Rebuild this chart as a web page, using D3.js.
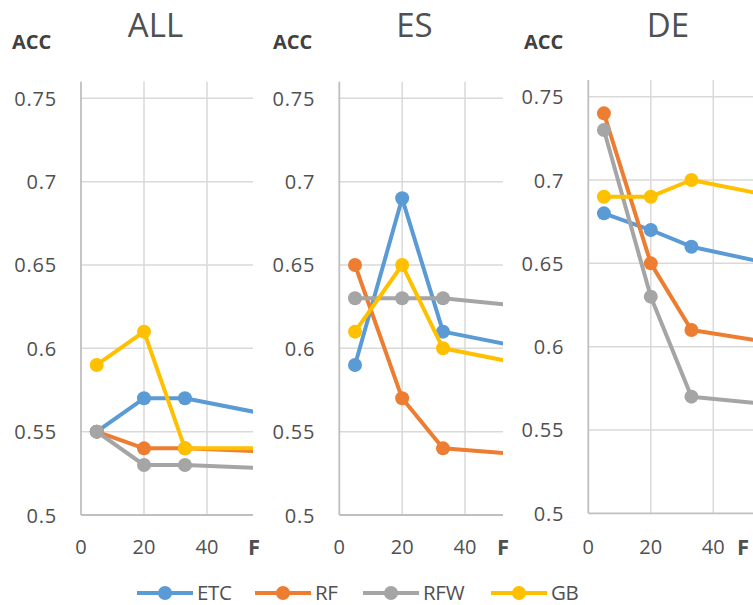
<!DOCTYPE html>
<html>
<head>
<meta charset="utf-8">
<script src="https://cdn.jsdelivr.net/npm/d3@7"></script>
<style>
  html, body { margin: 0; padding: 0; background: #fff; }
  svg { display: block; font-family: "Open Sans", "Liberation Sans", Arial, sans-serif; }
</style>
</head>
<body>
<svg id="chart" width="753" height="605"></svg>
<script>
// ---- data ----
const seriesNames = ["ETC", "RF", "RFW", "GB"];
const seriesColors = ["#5B9BD5", "#ED7D31", "#A5A5A5", "#FFC000"];
const featureCounts = [5, 20, 33, 60];
const panelTitles = ["ALL", "ES", "DE"];
const yTicks = [0.5, 0.55, 0.6, 0.65, 0.7, 0.75];
const yTickLabels = ["0.5", "0.55", "0.6", "0.65", "0.7", "0.75"];
const xTicks = [0, 20, 40];
const xTickLabels = ["0", "20", "40"];

const allETC = [0.55, 0.57, 0.57, 0.56];
const allRF  = [0.55, 0.54, 0.54, 0.538];
const allRFW = [0.55, 0.53, 0.53, 0.528];
const allGB  = [0.59, 0.61, 0.54, 0.54];

const esETC = [0.59, 0.69, 0.61, 0.60];
const esRF  = [0.65, 0.57, 0.54, 0.536];
const esRFW = [0.63, 0.63, 0.63, 0.625];
const esGB  = [0.61, 0.65, 0.60, 0.59];

const deETC = [0.68, 0.67, 0.66, 0.649];
const deRF  = [0.74, 0.65, 0.61, 0.602];
const deRFW = [0.73, 0.63, 0.57, 0.565];
const deGB  = [0.69, 0.69, 0.70, 0.69];

const panelData = [
  [allETC, allRF, allRFW, allGB],
  [esETC, esRF, esRFW, esGB],
  [deETC, deRF, deRFW, deGB]
];

// ---- layout ----
const panels = [
  { x0: 81,    x40: 207,   right: 253, yBot: 515,   yTop: 98.3, titleX: 155.5, accX: 12,  fX: 248 },
  { x0: 339.3, x40: 465,   right: 503, yBot: 515,   yTop: 98.3, titleX: 414.5, accX: 273, fX: 497 },
  { x0: 588.3, x40: 713.3, right: 753, yBot: 513.3, yTop: 96.7, titleX: 668,   accX: 524, fX: 737 }
];

const svg = d3.select("#chart");
const textColor = "#505050";

panels.forEach((p, pi) => {
  const x = d3.scaleLinear().domain([0, 40]).range([p.x0, p.x40]);
  const y = d3.scaleLinear().domain([0.5, 0.75]).range([p.yBot, p.yTop]);
  const g = svg.append("g");

  const clipId = "clip" + pi;
  svg.append("clipPath").attr("id", clipId)
    .append("rect").attr("x", p.x0 - 10).attr("y", 0)
    .attr("width", p.right - p.x0 + 10).attr("height", 560);

  const topY = y(0.76);
  g.selectAll(".hg").data(yTicks.slice(1)).enter().append("line")
    .attr("x1", p.x0).attr("x2", p.right)
    .attr("y1", d => y(d)).attr("y2", d => y(d))
    .attr("stroke", "#D9D9D9").attr("stroke-width", 1.5);
  g.selectAll(".vg").data(xTicks.slice(1)).enter().append("line")
    .attr("x1", d => x(d)).attr("x2", d => x(d))
    .attr("y1", topY).attr("y2", p.yBot)
    .attr("stroke", "#D9D9D9").attr("stroke-width", 1.5);
  g.append("line").attr("x1", p.x0).attr("x2", p.x0).attr("y1", topY).attr("y2", p.yBot)
    .attr("stroke", "#BFBFBF").attr("stroke-width", 1.8);
  g.append("line").attr("x1", p.x0).attr("x2", p.right).attr("y1", p.yBot).attr("y2", p.yBot)
    .attr("stroke", "#BFBFBF").attr("stroke-width", 1.8);

  g.selectAll(".yl").data(yTicks).enter().append("text")
    .attr("x", p.x0 - 24).attr("y", d => y(d) + 7.5)
    .attr("text-anchor", "end").attr("font-size", 20).attr("font-weight", 500)
    .attr("letter-spacing", 0.8)
    .attr("fill", textColor).text((d, i) => yTickLabels[i]);
  g.selectAll(".xl").data(xTicks).enter().append("text")
    .attr("x", d => x(d)).attr("y", 554)
    .attr("text-anchor", "middle").attr("font-size", 20).attr("font-weight", 500)
    .attr("fill", textColor).text((d, i) => xTickLabels[i]);

  g.append("text").attr("x", p.fX).attr("y", 555).attr("font-size", 22).attr("font-weight", "bold")
    .attr("fill", textColor).text("F");
  g.append("text").attr("x", p.accX).attr("y", 49).attr("font-size", 20).attr("font-weight", "bold")
    .attr("fill", "#404040").text("ACC");
  g.append("text").attr("x", p.titleX).attr("y", 37).attr("text-anchor", "middle")
    .attr("font-size", 33).attr("font-weight", 500).attr("fill", textColor).text(panelTitles[pi]);

  const plot = g.append("g").attr("clip-path", `url(#${clipId})`);
  const line = d3.line().x((d, i) => x(featureCounts[i])).y(d => y(d));
  panelData[pi].forEach((vals, si) => {
    const sg = plot.append("g");
    sg.append("path").datum(vals).attr("d", line)
      .attr("fill", "none").attr("stroke", seriesColors[si]).attr("stroke-width", 4)
      .attr("stroke-linejoin", "round");
    sg.selectAll("circle").data(vals).enter().append("circle")
      .attr("cx", (d, i) => x(featureCounts[i])).attr("cy", d => y(d))
      .attr("r", 7).attr("fill", seriesColors[si]);
  });
});

// ---- legend ----
const legendX = [137, 255, 363, 491];
const legendY = 593;
const lg = svg.append("g");
seriesNames.forEach((name, i) => {
  const lx = legendX[i];
  lg.append("line").attr("x1", lx).attr("x2", lx + 56).attr("y1", legendY).attr("y2", legendY)
    .attr("stroke", seriesColors[i]).attr("stroke-width", 4);
  lg.append("circle").attr("cx", lx + 28).attr("cy", legendY).attr("r", 7).attr("fill", seriesColors[i]);
  lg.append("text").attr("x", lx + 60).attr("y", legendY + 6.5).attr("font-size", 20.5)
    .attr("font-weight", 500).attr("letter-spacing", -0.3).attr("fill", textColor).text(name);
});
</script>
</body>
</html>
